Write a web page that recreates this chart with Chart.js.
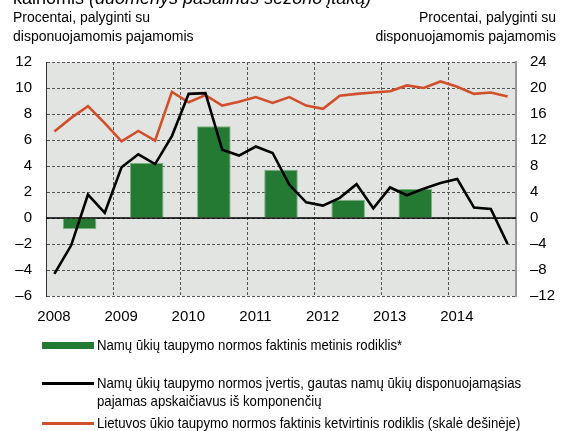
<!DOCTYPE html>
<html>
<head>
<meta charset="utf-8">
<script src="https://cdn.jsdelivr.net/npm/chart.js@4.4.1/dist/chart.umd.min.js"></script>
<style>
  body { margin: 0; background: #fff; }
  #wrap { position: relative; width: 566px; height: 431px; overflow: hidden;
          font-family: "Liberation Sans", Arial, sans-serif; color: #000; }
  #wrap canvas { position: absolute; left: 0; top: 0; }
  .title { position: absolute; left: 13px; top: -12px; font-size: 18px; white-space: nowrap; }
  .axt { position: absolute; top: 8px; font-size: 14px; line-height: 19px; white-space: nowrap; }
  #legend { position: absolute; left: 42px; top: 336px; font-size: 15px; line-height: 18px; }
  .li { position: relative; padding-left: 55px; white-space: nowrap; }
  .li .t { display: inline-block; transform: scaleX(0.88); transform-origin: left center; }
  .sw { position: absolute; left: 0; width: 52px; }
</style>
</head>
<body>
<div id="wrap">
  <canvas id="chart1" width="566" height="431"></canvas>
  <div class="title">kainomis <i>(duomenys pašalinus sezono įtaką)</i></div>
  <div class="axt" style="left:13px">Procentai, palyginti su<br>disponuojamomis pajamomis</div>
  <div class="axt" style="right:10px;text-align:right">Procentai, palyginti su<br>disponuojamomis pajamomis</div>
  <div id="legend"></div>
</div>
<script>
// metai ir ketvirčiai
const years = ["2008", "2009", "2010", "2011", "2012", "2013", "2014"];
const quarters = years.flatMap((y) => ["I", "II", "III", "IV"].map((q) => y + " " + q));

// metinis rodiklis (kairė skalė)
const annualRate = [-0.85, 4.23, 7.05, 3.72, 1.41, 2.23, null];
// įvertis iš komponenčių (kairė skalė)
const estimateRate = [
    -4.3, -2.1, 1.8, 0.4,
    3.9, 4.9, 4.15, 6.3,
    9.55, 9.6, 5.25, 4.8,
    5.5, 5.0, 2.55, 1.2,
    0.95, 1.55, 2.6, 0.75,
    2.35, 1.75, 2.25, 2.7,
    3.0, 0.8, 0.7, -2.0,
];
// Lietuvos ūkio ketvirtinis rodiklis (dešinė skalė)
const economyRate = [
    13.3, 15.4, 17.2, 14.6,
    11.8, 13.4, 11.9, 19.4,
    17.8, 18.9, 17.3, 17.9,
    18.6, 17.7, 18.6, 17.3,
    16.8, 18.8, 19.1, 19.3,
    19.5, 20.4, 20.0, 21.0,
    20.2, 19.1, 19.3, 18.7,
];

const labels = [
    "Namų ūkių taupymo normos faktinis metinis rodiklis*",
    "Namų ūkių taupymo normos įvertis, gautas namų ūkių disponuojamąsias pajamas apskaičiavus iš komponenčių",
    "Lietuvos ūkio taupymo normos faktinis ketvirtinis rodiklis (skalė dešinėje)",
];

const GREEN = "#247a32";
const RED = "#d24f2b";

const dash = (v) => String(v).replace("-", "\u2013");

// fonas ir nulinė linija
const bgPlugin = {
    id: "bg",
    beforeDraw(chart) {
        const { ctx, chartArea: a } = chart;
        ctx.save();
        ctx.fillStyle = "#e1e4e1";
        ctx.fillRect(a.left, a.top, a.right - a.left, a.bottom - a.top);
        ctx.restore();
    },
    beforeDatasetsDraw(chart) {
        const { ctx, chartArea: a } = chart;
        const y0 = chart.scales.y.getPixelForValue(0);
        ctx.save();
        ctx.strokeStyle = "#000";
        ctx.lineWidth = 1.5;
        ctx.beginPath();
        ctx.moveTo(a.left, y0);
        ctx.lineTo(a.right, y0);
        ctx.stroke();
        ctx.restore();
    },
};

Chart.defaults.font.family = '"Liberation Sans", Arial, sans-serif';
Chart.defaults.font.size = 15;
Chart.defaults.color = "#000";

const ctx1 = document.getElementById("chart1").getContext("2d");
const chart1 = new Chart(ctx1, {
    data: {
        datasets: [
            {
                type: "line",
                label: labels[1],
                data: estimateRate.map((v, i) => ({ x: i + 0.5, y: v })),
                borderColor: "#000",
                borderWidth: 2.6,
                pointRadius: 0,
                tension: 0,
                yAxisID: "y",
                order: 0,
            },
            {
                type: "line",
                label: labels[2],
                data: economyRate.map((v, i) => ({ x: i + 0.5, y: v })),
                borderColor: RED,
                borderWidth: 2.6,
                pointRadius: 0,
                tension: 0,
                yAxisID: "y1",
                order: 1,
            },
            {
                type: "bar",
                label: labels[0],
                data: annualRate.map((v, i) => ({ x: i * 4 + 2, y: v })),
                backgroundColor: GREEN,
                borderColor: "rgba(110, 170, 115, 0.9)",
                borderWidth: 1,
                categoryPercentage: 1,
                barPercentage: 0.5,
                yAxisID: "y",
                order: 2,
            },
        ],
    },
    options: {
        responsive: false,
        animation: false,
        layout: { padding: { top: 62, bottom: 101, left: 0, right: 0 } },
        plugins: { legend: { display: false }, tooltip: { enabled: false } },
        scales: {
            x: {
                type: "linear",
                offset: false,
                min: 0,
                max: quarters.length,
                afterFit: (s) => { s.height = 34; },
                grid: { color: "#555", lineWidth: 1, drawTicks: false, offset: false },
                border: { display: false, dash: [3, 2] },
                ticks: {
                    stepSize: 4,
                    padding: 12,
                    labelOffset: 8,
                    callback: (v) => years[v / 4] || "",
                },
            },
            y: {
                position: "left",
                min: -6,
                max: 12,
                afterFit: (s) => { s.width = 46; },
                grid: { color: "#555", lineWidth: 1, drawTicks: false },
                border: { color: "#333", width: 1, dash: [3, 2] },
                ticks: { stepSize: 2, padding: 14, callback: dash },
            },
            y1: {
                position: "right",
                min: -12,
                max: 24,
                afterFit: (s) => { s.width = 50; },
                grid: { drawOnChartArea: false, drawTicks: false },
                border: { color: "#9a9a9a", width: 2 },
                ticks: { stepSize: 4, padding: 14, callback: dash },
            },
        },
    },
    plugins: [bgPlugin],
});

// legenda
const legend = document.getElementById("legend");
const swatches = [
    `<span class="sw" style="top:6px;height:7px;background:${GREEN}"></span>`,
    `<span class="sw" style="top:8px;height:3px;background:#000"></span>`,
    `<span class="sw" style="top:8px;height:3px;background:${RED}"></span>`,
];
const gaps = ["0", "20px", "4px"];
legend.innerHTML = labels
    .map((t, i) => {
        const txt = i === 1
            ? "<span class='t'>Namų ūkių taupymo normos įvertis, gautas namų ūkių disponuojamąsias</span><br><span class='t'>pajamas apskaičiavus iš komponenčių</span>"
            : `<span class='t'>${t}</span>`;
        return `<div class="li" style="margin-top:${gaps[i]}">${swatches[i]}${txt}</div>`;
    })
    .join("");
</script>
</body>
</html>
